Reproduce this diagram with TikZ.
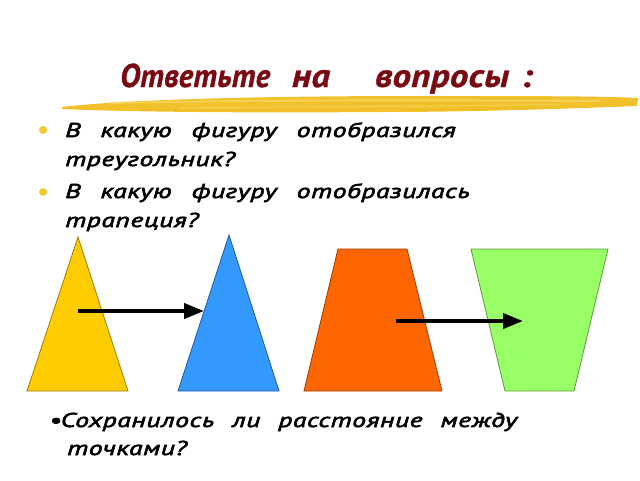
\documentclass[tikz,border=0pt]{standalone}
\usepackage{fontspec}
\setmainfont{PT Sans}
\newfontfamily\qfont[FakeStretch=1.38,LetterSpace=3,FakeBold=3]{PT Sans}
\newfontfamily\tfont[FakeStretch=0.93,LetterSpace=1,FakeBold=1]{PT Sans}
\newfontfamily\tfontw[FakeStretch=1.12,LetterSpace=1,FakeBold=1]{PT Sans}
\usetikzlibrary{arrows.meta}
\definecolor{titlered}{HTML}{7A0A12}
\definecolor{brushA}{HTML}{F0C12A}
\definecolor{brushB}{HTML}{F8DA6A}
\definecolor{bulletY}{HTML}{F7C830}
\definecolor{triY}{HTML}{FFCC00}
\definecolor{triYd}{HTML}{9C7A10}
\definecolor{triB}{HTML}{3399FF}
\definecolor{triBd}{HTML}{1F5A99}
\definecolor{trapO}{HTML}{FF6600}
\definecolor{trapOd}{HTML}{993D00}
\definecolor{trapG}{HTML}{99FF66}
\definecolor{trapGd}{HTML}{5C993D}
\tikzset{
  titletext/.style={font=\tfont\bfseries\itshape\fontsize{33}{38}\selectfont, text=titlered, anchor=base west, inner sep=0pt},
  qtext/.style={font=\qfont\itshape\fontsize{20}{24}\selectfont, text=black, anchor=base west, inner sep=0pt},
  bulletdot/.style={circle, fill=bulletY, minimum size=8pt, inner sep=0pt},
  shapeline/.style={line width=0.8pt},
  maparrow/.style={line width=4pt, -{Triangle[length=20pt,width=15pt]}}
}
\begin{document}
\begin{tikzpicture}[x=1pt,y=-1pt]
\useasboundingbox (0,0) rectangle (640,480);
\fill[white] (0,0) rectangle (640,480);

% brush underline
\fill[brushA] (62,107) .. controls (120,100) and (250,96) .. (420,96)
  .. controls (520,96) and (600,96) .. (638,98)
  -- (637,106) .. controls (560,109) and (470,112) .. (380,112)
  .. controls (250,113) and (130,112) .. (62,109) -- cycle;
\draw[brushB, line width=2pt, line cap=round, opacity=0.7] (110,103) .. controls (250,100) and (420,100) .. (600,101);
\draw[brushB, line width=1pt, line cap=round, opacity=0.6] (180,108) .. controls (320,106) and (450,107) .. (560,104);
\draw[brushA!80!orange, line width=1pt, line cap=round, opacity=0.5] (140,110) .. controls (300,111) and (420,110) .. (520,108);

% title
\node[titletext] (title) at (120,87) {\spaceskip=22pt\relax Ответьте {\tfontw на\spaceskip=45pt\relax\ вопросы\spaceskip=12pt\relax\ :}};

% questions
\node[bulletdot] (b1) at (43,130) {};
\node[bulletdot] (b2) at (43,192) {};
\node[qtext] (q1a) at (65,137) {\spaceskip=20pt\relax В какую фигуру отобразился};
\node[qtext] (q1b) at (65,166) {треугольник?};
\node[qtext] (q2a) at (65,198) {\spaceskip=20pt\relax В какую фигуру отобразилась};
\node[qtext] (q2b) at (65,227) {трапеция?};

% shapes
\filldraw[shapeline, fill=triY, draw=triYd] (78,237) -- (128,391) -- (27,391) -- cycle;
\filldraw[shapeline, fill=triB, draw=triBd] (229,235) -- (279,391) -- (178,391) -- cycle;
\filldraw[shapeline, fill=trapO, draw=trapOd] (338,249) -- (407,249) -- (442,391) -- (304,391) -- cycle;
\filldraw[shapeline, fill=trapG, draw=trapGd] (471,249) -- (608,249) -- (574,391) -- (505,391) -- cycle;

% arrows
\coordinate (a1s) at (78,311);
\coordinate (a1e) at (204,311);
\coordinate (a2s) at (396,321);
\coordinate (a2e) at (523,321);
\draw[maparrow] (a1s) -- (a1e);
\draw[maparrow] (a2s) -- (a2e);

% bottom question
\node[qtext] (q3a) at (49,427) {\spaceskip=18pt\relax •\kern-1pt Сохранилось ли расстояние между};
\node[qtext] (q3b) at (67,455) {точками?};
\end{tikzpicture}
\end{document}
